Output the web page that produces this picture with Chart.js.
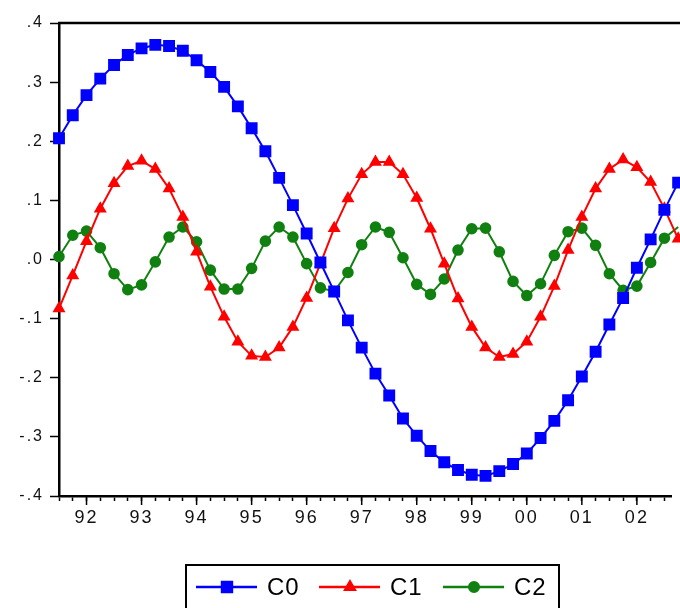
<!DOCTYPE html>
<html>
<head>
<meta charset="utf-8">
<script src="https://cdn.jsdelivr.net/npm/chart.js@4.4.0/dist/chart.umd.min.js"></script>
<style>
  body { margin: 0; background: #fff; }
  #wrap { width: 680px; height: 608px; }
</style>
</head>
<body>
<div id="wrap"><canvas id="canvas-corr"></canvas></div>
<script>
// quarterly series, 1991Q3 .. 2002Q4
const quarters = ['91Q3','91Q4',
  '92Q1','92Q2','92Q3','92Q4','93Q1','93Q2','93Q3','93Q4','94Q1','94Q2','94Q3','94Q4',
  '95Q1','95Q2','95Q3','95Q4','96Q1','96Q2','96Q3','96Q4','97Q1','97Q2','97Q3','97Q4',
  '98Q1','98Q2','98Q3','98Q4','99Q1','99Q2','99Q3','99Q4','00Q1','00Q2','00Q3','00Q4',
  '01Q1','01Q2','01Q3','01Q4','02Q1','02Q2','02Q3','02Q4'];
const yearLabels = ['92','93','94','95','96','97','98','99','00','01','02'];
const c0 = [0.205, 0.244, 0.278, 0.306, 0.329, 0.346, 0.357, 0.363, 0.361, 0.353, 0.337, 0.317,
  0.292, 0.259, 0.222, 0.183, 0.138, 0.092, 0.044, -0.005, -0.054, -0.103, -0.149,
  -0.193, -0.230, -0.269, -0.298, -0.324, -0.343, -0.356, -0.364, -0.366, -0.358, -0.346,
  -0.328, -0.302, -0.273, -0.238, -0.198, -0.156, -0.110, -0.065, -0.014, 0.034, 0.084, 0.130];
const c1 = [-0.083, -0.027, 0.031, 0.086, 0.129, 0.158, 0.167, 0.153, 0.120, 0.072, 0.013, -0.046,
  -0.097, -0.139, -0.163, -0.165, -0.149, -0.114, -0.065, -0.007, 0.053, 0.103, 0.144,
  0.165, 0.165, 0.144, 0.104, 0.052, -0.007, -0.066, -0.114, -0.149, -0.165, -0.160,
  -0.139, -0.097, -0.045, 0.016, 0.072, 0.120, 0.153, 0.169, 0.156, 0.131, 0.086, 0.035];
const c2 = [0.005, 0.041, 0.048, 0.020, -0.024, -0.051, -0.043, -0.004, 0.038, 0.055, 0.030, -0.018,
  -0.050, -0.050, -0.015, 0.031, 0.055, 0.038, -0.007, -0.048, -0.054, -0.022, 0.025,
  0.055, 0.046, 0.003, -0.042, -0.059, -0.033, 0.016, 0.052, 0.053, 0.013, -0.037,
  -0.061, -0.041, 0.007, 0.047, 0.053, 0.024, -0.024, -0.052, -0.045, -0.005, 0.036, 0.055];

const toPoints = (arr) => arr.map((v, i) => ({x: i, y: v}));
const yearOf = (i) => quarters[i].slice(2) === 'Q1' ? quarters[i].slice(0, 2) : '';

// frame top line, long year ticks and the boxed legend at the bottom
const extras = {
  id: 'extras',
  beforeDraw(chart) {
    chart.ctx.letterSpacing = '2px';
  },
  afterDraw(chart) {
    const ctx = chart.ctx;
    const a = chart.chartArea;
    const xs = chart.scales.x;
    ctx.save();
    ctx.letterSpacing = '0px';
    ctx.strokeStyle = '#000';
    ctx.lineWidth = 2.5;
    ctx.beginPath();
    ctx.moveTo(a.left - 1, a.top);
    ctx.lineTo(chart.width, a.top);
    ctx.stroke();

    ctx.lineWidth = 1.5;
    quarters.forEach((q, i) => {
      if (yearOf(i) && yearLabels.includes(yearOf(i))) {
        const px = xs.getPixelForValue(i);
        ctx.beginPath();
        ctx.moveTo(px, a.bottom);
        ctx.lineTo(px, a.bottom + 9);
        ctx.stroke();
      }
    });

    ctx.lineWidth = 2;
    ctx.strokeRect(186, 565, 373, 60);
    const starts = [196, 319, 443];
    chart.data.datasets.forEach((ds, k) => {
      const x0 = starts[k], y0 = 587;
      ctx.strokeStyle = ds.borderColor;
      ctx.lineWidth = 2.5;
      ctx.beginPath();
      ctx.moveTo(x0, y0);
      ctx.lineTo(x0 + 61, y0);
      ctx.stroke();
      ctx.fillStyle = ds.backgroundColor;
      Chart.helpers.drawPoint(ctx, {pointStyle: ds.pointStyle, radius: ds.pointRadius, rotation: 0, borderWidth: 1}, x0 + 31, y0);
      ctx.fillStyle = '#000';
      ctx.letterSpacing = '1px';
      ctx.font = '24px "Liberation Sans", Arial, sans-serif';
      ctx.textBaseline = 'middle';
      ctx.textAlign = 'left';
      ctx.fillText(ds.label, x0 + 71, y0 + 1);
    });
    ctx.restore();
  }
};

const ctx = document.getElementById('canvas-corr').getContext('2d');
const myChart = new Chart(ctx, {
  type: 'line',
  data: {
    datasets: [{
      label: 'C0',
      data: toPoints(c0),
      borderColor: '#0000ff',
      backgroundColor: '#0000ff',
      borderWidth: 2,
      pointStyle: 'rect',
      pointRadius: 7,
      clip: false
    }, {
      label: 'C1',
      data: toPoints(c1),
      borderColor: '#ff0000',
      backgroundColor: '#ff0000',
      borderWidth: 2,
      pointStyle: 'triangle',
      pointRadius: 5.5,
      clip: false
    }, {
      label: 'C2',
      data: toPoints(c2),
      borderColor: '#108010',
      backgroundColor: '#108010',
      borderWidth: 2,
      pointStyle: 'circle',
      pointRadius: 4.8,
      clip: false
    }]
  },
  options: {
    responsive: true,
    maintainAspectRatio: false,
    animation: false,
    layout: { padding: { left: 0, top: 23, right: 0, bottom: 72 } },
    elements: {
      line: { tension: 0 },
      point: { borderWidth: 1, hoverRadius: 5 }
    },
    plugins: { legend: { display: false }, tooltip: { enabled: false } },
    scales: {
      x: {
        type: 'linear',
        min: 0,
        max: 44.48,
        afterBuildTicks: (scale) => {
          scale.ticks = quarters.map((q, i) => ({value: i})).filter(t => t.value <= 44);
        },
        afterFit: (scale) => { scale.height = 40; },
        grid: { drawOnChartArea: false, tickLength: 5, tickColor: '#000', tickWidth: 1.5 },
        border: { color: '#000', width: 2.5 },
        ticks: {
          autoSkip: false,
          maxRotation: 0,
          padding: 6,
          color: '#111',
          font: { family: '"Liberation Sans", Arial, sans-serif', size: 18 },
          callback: (v) => yearOf(v)
        }
      },
      y: {
        min: -0.4,
        max: 0.4,
        afterFit: (scale) => { scale.width = 59; },
        grid: { drawOnChartArea: false, tickLength: 9, tickColor: '#000', tickWidth: 1.5 },
        border: { color: '#000', width: 2.5 },
        ticks: {
          stepSize: 0.1,
          padding: 6,
          color: '#111',
          font: { family: '"Liberation Sans", Arial, sans-serif', size: 16 },
          callback: (v) => {
            const n = Math.round(v * 10);
            return n < 0 ? '-.' + (-n) : '.' + n;
          }
        }
      }
    }
  },
  plugins: [extras]
});
</script>
</body>
</html>
